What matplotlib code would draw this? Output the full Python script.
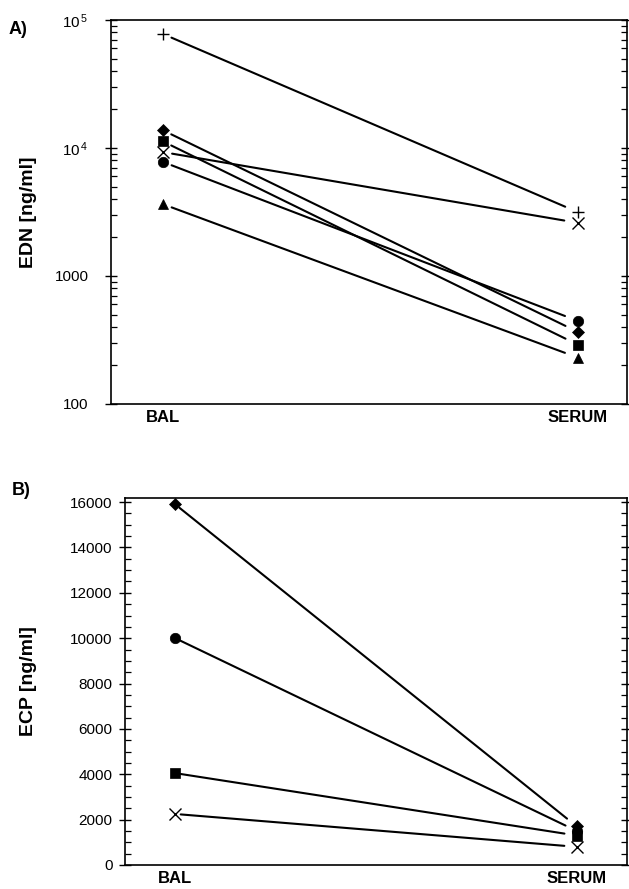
import matplotlib
matplotlib.use('Agg')
import matplotlib.pyplot as plt
from matplotlib import rcParams
from matplotlib.ticker import LogLocator, FixedLocator, MultipleLocator, NullFormatter

rcParams['font.family'] = ['Liberation Sans', 'DejaVu Sans']

# sample positions on the x axis
categories = ['BAL', 'SERUM']

# Panel A: EDN (log scale), one entry per patient
edn_markers = ['+', 'D', 's', 'x', 'o', '^']
edn_bal = [78000, 13800, 11300, 9300, 7800, 3650]
edn_serum = [3150, 365, 290, 2600, 445, 230]

# Panel B: ECP (linear scale)
ecp_markers = ['D', 'o', 's', 'x']
ecp_bal = [15900, 10000, 4050, 2250]
ecp_serum = [1700, 1500, 1300, 800]

marker_size = {'+': 8, 'x': 8, 'D': 6, 's': 7, 'o': 7.5, '^': 7.5}


def draw_pairs(ax, markers, bal, serum, shrink_a, shrink_b):
    for m, b, s in zip(markers, bal, serum):
        ax.annotate('', xy=(1, s), xytext=(0, b),
                    arrowprops=dict(arrowstyle='-', color='black', lw=1.5,
                                    shrinkA=shrink_a, shrinkB=shrink_b))
        filled = m not in ('+', 'x')
        ax.plot([0, 1], [b, s], linestyle='none', marker=m,
                markersize=marker_size[m], color='black',
                markeredgewidth=1.0 if not filled else 0.5)


def style_axis(ax, pad):
    for sp in ax.spines.values():
        sp.set_linewidth(1.2)
    ax.tick_params(axis='y', which='major', direction='inout', length=8,
                   width=1.0, labelsize=11, right=True, pad=pad)
    ax.tick_params(axis='y', which='minor', direction='in', length=4,
                   width=0.9, right=True)
    ax.tick_params(axis='x', length=0, labelsize=12, pad=4)
    ax.set_xticks([0, 1])
    ax.set_xticklabels(categories, fontweight='bold')


fig = plt.figure(figsize=(6.29, 8.89), dpi=100)

# ---- A) EDN ----
ax1 = fig.add_axes([0.1765, 0.5456, 0.8203, 0.4319])
ax1.set_yscale('log')
ax1.set_ylim(100, 1e5)
ax1.set_xlim(-0.124, 1.118)
draw_pairs(ax1, edn_markers, edn_bal, edn_serum, 7, 10)
ax1.yaxis.set_major_locator(FixedLocator([100, 1000, 1e4, 1e5]))
ax1.set_yticklabels(['100', '1000', r'$\mathregular{10^{\,4}}$',
                     r'$\mathregular{10^{\,5}}$'])
ax1.yaxis.set_minor_locator(LogLocator(base=10, subs=range(2, 10)))
ax1.yaxis.set_minor_formatter(NullFormatter())
style_axis(ax1, 12)
ax1.set_ylabel('EDN [ng/ml]', fontsize=14, fontweight='bold', labelpad=13)
fig.text(0.014, 0.962, 'A)', fontsize=13, fontweight='bold')

# ---- B) ECP ----
ax2 = fig.add_axes([0.1987, 0.027, 0.7981, 0.4128])
ax2.set_ylim(0, 16180)
ax2.set_xlim(-0.125, 1.125)
draw_pairs(ax2, ecp_markers, ecp_bal, ecp_serum, 4, 9)
ax2.yaxis.set_major_locator(MultipleLocator(2000))
ax2.yaxis.set_minor_locator(MultipleLocator(500))
style_axis(ax2, 5)
ax2.set_ylabel('ECP [ng/ml]', fontsize=14, fontweight='bold', labelpad=24)
fig.text(0.018, 0.443, 'B)', fontsize=13, fontweight='bold')

plt.savefig('out.png', dpi=100)
plt.close()
